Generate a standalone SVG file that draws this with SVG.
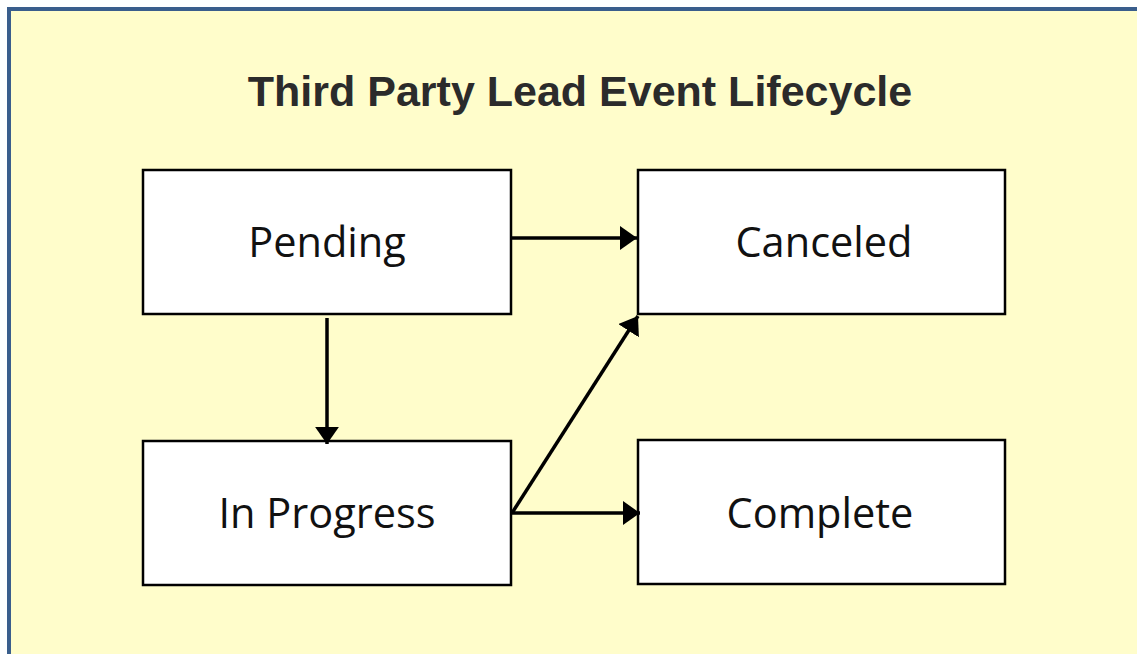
<svg xmlns="http://www.w3.org/2000/svg" width="1137" height="654" viewBox="0 0 1137 654">
<defs>
<style>
.box{fill:#fff;stroke:#000;stroke-width:2.5}
.lbl{font-family:"Open Sans","Liberation Sans",sans-serif;font-size:41.5px;fill:#111;text-anchor:middle}
.title{font-family:"Liberation Sans",Arial,sans-serif;font-weight:bold;font-size:43px;fill:#2b2b2b;text-anchor:middle}
.conn{stroke:#000;stroke-width:3.5;fill:none;marker-end:url(#ah)}
</style>
<marker id="ah" viewBox="0 0 10 14" refX="10" refY="7" markerWidth="5" markerHeight="7" orient="auto" markerUnits="strokeWidth">
<path d="M0,0 L10,7 L0,14 Z" fill="#000"/>
</marker>
</defs>
<rect x="0" y="0" width="1137" height="654" fill="#fff"/>
<rect x="9" y="9" width="1140" height="660" fill="#FFFDCB" stroke="#3A5E8C" stroke-width="4"/>
<text class="title" x="580" y="106">Third Party Lead Event Lifecycle</text>
<g id="pending"><rect class="box" x="143" y="170" width="368" height="144"/><text class="lbl" x="327" y="257">Pending</text></g>
<g id="canceled"><rect class="box" x="638" y="170" width="367" height="144"/><text class="lbl" x="824" y="257">Canceled</text></g>
<g id="inprogress"><rect class="box" x="143" y="441" width="368" height="144"/><text class="lbl" x="327" y="528">In Progress</text></g>
<g id="complete"><rect class="box" x="638" y="440" width="367" height="144"/><text class="lbl" x="820" y="528">Complete</text></g>
<g id="connectors">
<line class="conn" x1="511" y1="238" x2="637" y2="238"/>
<line class="conn" x1="327" y1="318" x2="327" y2="444"/>
<line class="conn" x1="512" y1="513" x2="638" y2="316"/>
<line class="conn" x1="512" y1="513" x2="640" y2="513"/>
</g>
</svg>
